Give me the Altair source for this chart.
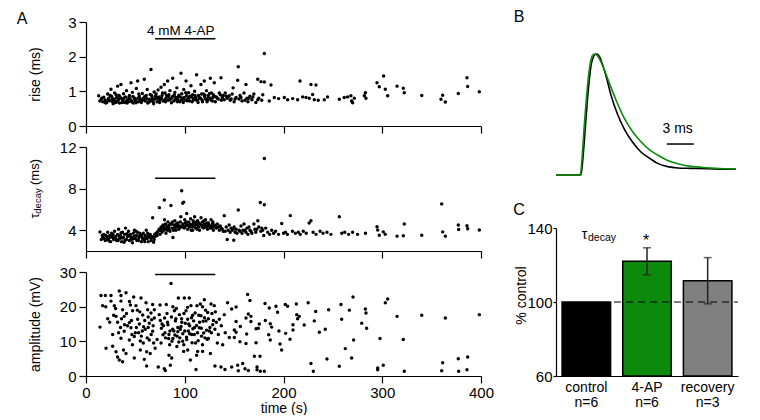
import altair as alt
import pandas as pd

FONT = "Liberation Sans"

drug_start, drug_end = 70, 131
drug_label = "4 mM 4-AP"

# ---- Panel A data: (time s, value) ----
rise = [
    (12.8,0.87),(14,0.72),(15.5,0.78),(17,0.70),(18,0.83),(19.5,0.75),(21,0.68),(22,0.92),(23,0.80),(24,0.73),
    (25.3,1.06),(26,0.85),(27,0.70),(28,0.78),(29,0.95),(30,0.68),(31,0.82),(32,1.15),(32.5,0.74),(33.5,0.88),
    (34,0.66),(35.4,1.20),(36,0.79),(37,0.72),(38,0.93),(39,0.68),(40,0.84),(41,1.02),(42,0.76),(43,0.70),
    (44,0.88),(45.6,1.25),(46,0.73),(47,0.97),(48,0.66),(49,0.81),(50,0.75),(51,1.08),(52.3,1.30),(53,0.70),
    (54,0.86),(55,0.78),(56,0.68),(57,0.94),(58,0.80),(59,1.35),(60,0.72),(61,0.88),(62,1.05),(63,0.69),
    (64,0.77),(65,0.91),(65.8,1.63),(66,0.74),(67,0.83),(68,0.70),(69,0.98),
    (70,0.78),(71,0.92),(72,0.70),(73,1.04),(74,0.84),(75,0.76),(76,1.12),(77,0.88),(78,0.72),(79.3,1.20),
    (80,0.95),(81,0.80),(82.7,1.30),(83,0.74),(84,0.90),(85,1.02),(86,0.78),(87.8,1.38),(88,0.86),(89,0.72),
    (90,0.97),(91,0.82),(92,1.10),(93,0.76),(94,0.89),(95,0.70),(96.2,1.52),(97,0.93),(98,0.80),(99,1.05),
    (100,0.74),(101.3,1.30),(102,0.87),(103,0.78),(104,0.96),(105,0.72),(106.3,1.16),(107,0.84),(108,0.90),
    (109,0.76),(110,1.00),(111,0.82),(112,1.48),(113,0.74),(114,0.88),(115,0.80),(116.4,1.20),(117,0.92),
    (118,0.70),(119.8,1.30),(120,0.85),(121,0.78),(122,1.02),(123,0.74),(124,0.88),(125.9,1.38),(126,0.80),
    (127,0.95),(128,0.72),(129.9,1.25),(130,0.86),
    (132,0.84),(134,0.78),(136,0.90),(136.7,1.39),(138,0.82),(140,0.76),(141,0.95),(143,0.80),(145,0.87),
    (146,0.74),(148,0.92),(149,1.10),(150,0.70),(152,0.82),(153.6,1.32),(154.2,1.71),(155,0.78),(156,0.88),
    (158,0.72),(160,0.95),(162,1.20),(163,0.80),(164,0.70),(166,0.86),(168,0.76),(170,0.92),(172,0.68),
    (173.9,1.35),(175,0.80),(177.2,1.28),(178,0.74),(180.6,1.27),(180.6,2.09),(179,0.90),
    (20,0.66),(24.5,0.88),(27.5,0.64),(30.5,0.90),(33,0.77),(36.5,0.68),(38.5,0.81),(41.5,0.66),(44.5,0.79),
    (47.5,0.85),(50.5,0.67),(53.5,0.92),(56.5,0.73),(59.5,0.85),(62.5,0.66),(66.5,0.88),(68.5,0.64),(71.5,0.83),
    (74.5,0.68),(77.5,0.95),(80.5,0.70),(83.5,0.85),(86.5,0.67),(89.5,0.90),(92.5,0.70),(95.5,0.84),(98.5,0.68),
    (101,0.96),(104.5,0.82),(107.5,0.70),(110.5,0.88),(113.5,0.68),(116,0.80),(119,0.92),(122.5,0.70),(125,0.94),
    (128.5,0.82),(131,0.70),(135,0.95),(139,0.88),(144,0.83),(147,0.78),
    (16,0.80),(19,0.69),(22.5,0.74),(26.5,0.77),(29.5,0.72),(31.5,0.70),(34.5,0.84),(37.5,0.76),(40.5,0.71),
    (43.5,0.83),(46.5,0.69),(49.5,0.74),(52.5,0.80),(55.5,0.71),(58.5,0.76),(61.5,0.79),(64.5,0.70),(67.5,0.76),
    (70.5,0.86),(73.5,0.77),(76.5,0.81),(79,0.74),(81.5,0.88),(84.5,0.76),(87,0.82),(90.5,0.77),(93.5,0.84),
    (96.5,0.75),(99.5,0.82),(102.5,0.73),(105.5,0.86),(108.5,0.79),(111.5,0.75),(114.5,0.83),(117.5,0.76),
    (120.5,0.89),(123.5,0.81),(126.5,0.75),(129,0.90),(133,0.80),(137,0.74),(142,0.86),(151,0.78),(157,0.82),
    (161,0.74),(165,0.80),(169,0.84),(174,0.76),
    (185.6,0.72),(187.3,1.18),(190.7,0.82),(195,0.79),(200.8,0.82),(204.2,0.76),(209.3,0.79),(214.3,0.76),
    (216.7,1.30),(219.4,0.84),(222.8,0.82),(226.1,0.80),(227.8,1.20),(229.5,0.91),(231.2,0.76),(232.9,1.18),
    (235.2,0.74),(241.3,0.76),(244.6,0.84),(256.5,0.77),(261.5,0.82),(264.9,0.84),(268.2,0.87),(269,0.72),
    (270,0.67),(271.7,0.80),(281.8,0.87),(282.9,0.96),(283.5,0.80),(294.7,1.25),(297,1.13),(301.4,1.44),
    (303.1,1.06),(305.5,0.87),(315,1.15),(321.3,1.09),(322.3,0.96),(340,0.88),(359.5,0.77),(361.2,0.89),
    (363.9,0.69),(377,0.94),(385.8,1.39),(386.5,1.14),(398.3,0.99),
]

decay = [
    (14.2,3.83),(15.5,3.1),(17,3.3),(18,3.6),(19.5,3.0),(21,3.4),(22,3.8),(23,3.2),(24,3.5),(25,2.9),
    (26,3.7),(27,3.3),(28,3.1),(29,3.9),(30,3.4),(31,3.0),(32,3.6),(33,4.1),(34,3.2),(35,3.5),(36,2.9),
    (37,3.8),(38,3.3),(39,3.6),(40,4.2),(41,3.1),(42,3.4),(43,3.9),(44,3.0),(45,3.6),(46,3.3),(47,2.8),
    (48,3.7),(49,4.0),(50,3.2),(51,3.5),(52,3.8),(53,3.0),(54,3.4),(55,3.6),(56,2.9),(57,3.3),(58,3.7),
    (59,3.1),(60,3.5),(61,4.0),(62,3.2),(63,2.9),(64,3.4),(65,3.6),(66,3.0),(67.5,5.2),(68,3.3),(69,3.1),
    (20,3.5),(23.5,2.95),(26.5,3.45),(29.5,3.25),(32.5,3.0),(35.5,3.75),(38.5,2.85),(41.5,3.65),(44.5,3.45),
    (47.5,3.15),(50.5,3.9),(53.5,3.25),(56.5,3.55),(59.5,2.9),(62.5,3.7),(65.5,3.25),(68.5,2.85),
    (16.5,3.5),(18.5,3.2),(21.5,3.1),(24.5,3.35),(27.5,3.6),(30.5,3.15),(33.5,3.45),(36.5,3.25),(39.5,3.0),
    (42.5,3.5),(45.5,3.1),(48.5,3.4),(51.5,3.0),(54.5,3.7),(57.5,3.15),(60.5,3.3),(63.5,3.5),(66.5,3.4),
    (69.5,3.6),
    (70,3.4),(71,3.7),(72,3.5),(73,3.9),(74,4.1),(74.3,6.17),(75,3.6),(76,4.3),(77,3.8),(78,4.5),(79,4.0),
    (79.3,6.9),(79.5,5.0),(80,4.2),(81,3.7),(82,4.4),(83,4.8),(84,4.1),(85,3.9),(86,6.37),(86.5,4.6),(87,4.2),
    (88,3.3),(89,4.5),(90,4.9),(91,4.0),(92,4.3),(93,4.7),(94,4.1),(95,4.4),(96,5.3),(96.9,7.8),(97.9,6.6),
    (99,6.7),(98,4.6),(99.5,4.2),(100,5.0),(101,4.4),(102,5.6),(103,4.1),(104,4.8),(105,4.3),(106,5.1),
    (107,4.5),(108,4.0),(109,4.7),(110,5.3),(111,4.2),(112,4.6),(113,4.9),(114,4.3),(115,4.0),(116.5,5.2),
    (117,4.5),(118,4.8),(119,4.2),(120,4.6),(121,5.0),(122,4.3),(123,4.1),(124,4.7),(125,4.4),(126.6,5.0),
    (127,4.2),(128,4.6),(129,4.0),(130,4.5),
    (75.5,4.0),(77.5,4.2),(80.5,4.6),(82.5,4.0),(84.5,4.5),(87.5,4.8),(89.5,4.2),(91.5,4.6),(93.5,4.4),
    (95.5,4.8),(97,4.3),(100.5,4.7),(102.5,4.5),(104.5,4.4),(106.5,4.0),(108.5,4.9),(110.5,4.5),(112.5,4.1),
    (114.5,4.7),(117.5,4.3),(119.5,4.9),(121.5,4.4),(123.5,4.6),(125.5,4.2),(128.5,4.8),
    (72.5,3.8),(76.5,4.2),(78.5,4.4),(81.5,4.1),(83.5,4.3),(85.5,4.6),(88.5,4.0),(90.5,4.4),(92.5,4.5),
    (94.5,4.2),(98.5,4.4),(101.5,4.8),(103.5,4.5),(105.5,4.6),(107.5,4.3),(109.5,4.4),(111.5,4.8),(113.5,4.4),
    (115.5,4.6),(118.5,4.4),(120.5,4.3),(122.5,4.7),(124.5,4.5),(127.5,4.4),(129.5,4.3),
    (131,4.4),(132,4.2),(133,4.6),(134,4.3),(135,4.0),(136,4.4),(137,4.2),(138,4.1),(139,3.9),(140,5.4),
    (141,3.9),(142,4.3),(143,3.1),(144,4.0),(145,4.5),(146,3.8),(147,4.2),(148,4.0),(149,4.1),(149.6,3.04),
    (150,4.3),(151,3.8),(152,4.1),(153,3.7),(154.2,5.95),(155,4.0),(156,3.9),(157,4.4),(158,3.7),(159,4.0),
    (160,4.6),(161,4.0),(162,3.8),(163,4.2),(164,3.6),(165,4.3),(166,4.0),(167,3.9),(168,3.7),(170,4.6),
    (171,4.1),(172,3.8),(173,4.1),(174,4.9),(175,4.3),(176.5,6.66),(177,3.9),(178,4.2),(180,3.5),(180.6,6.44),
    (180.6,10.9),(179,4.0),
    (182,4.2),(184,3.8),(186,3.6),(188,4.0),(190,3.7),(192,3.9),(195,3.6),(198.2,4.65),(200,3.7),(202,3.8),
    (204,3.6),(206.9,5.4),(209,3.9),(212,3.7),(215,3.8),(217,3.6),(220,3.9),(223,3.7),(226,4.7),(227.8,4.91),
    (230,3.8),(233,3.6),(237,3.9),(240,3.7),(244,3.8),(248,3.6),(256.5,5.3),(259,3.7),(262,3.8),(266,3.6),
    (270,3.8),(275,3.6),(283,3.7),(294.7,4.33),(295.4,4.01),(297,3.52),(301,3.84),(303,3.62),(315,3.43),
    (321.3,3.46),(322.3,4.59),(340,3.52),(360.2,6.53),(361.2,3.84),(363.9,3.43),(377,4.5),(377.4,4.07),
    (385.8,4.43),(386.5,4.14),(398.3,4.01),
]

amp = [
    (14.2,14.1),(15.2,23.2),(16.9,20.3),(19.6,23.2),(20.3,8.0),(25.3,23.2),(27,8.6),(25.3,21.6),(28.7,20.3),
    (30.4,17.2),(32,15.5),(30.4,7.0),(32,5.5),(33.7,4.6),(33.7,24.5),(35.4,23.2),(35.4,21.6),(37.1,19.1),
    (38.7,17.2),(40.5,24.0),(37.1,4.1),(40.5,6.5),(35.4,10.9),(38.7,12.9),(43.9,15.4),(43.9,10.4),(45.5,13.9),
    (47.2,18.8),(48.3,22.8),(48.9,11.4),(48.9,5.2),(50.6,20.3),(52.3,16.4),(53.3,12.5),(55,10.1),(55.7,22.5),
    (57.4,17.6),(58.3,14.2),(59,4.8),(60.8,21.1),(62.5,19.1),(61.4,7.0),(61.4,2.9),(64.1,15.2),(64.1,10.4),
    (65.8,18.2),(67.5,20.6),(67.5,12.9),(69.2,16.7),(69.2,19.1),
    (74.2,17.7),(75.3,16.0),(73.2,2.6),(79.3,2.1),(80.3,1.6),(76.3,13.8),(78,11.9),(79.6,16.7),(81.3,20.6),
    (83,14.8),(83.7,10.8),(84.7,9.0),(85.4,3.1),(86.1,26.7),(86.8,5.2),(87.8,13.5),(89.5,18.8),(90.5,15.9),
    (92.2,11.5),(93.5,22.5),(94.6,17.7),(96.2,14.3),(97.9,10.0),(98.9,7.1),(99.6,22.5),(101.3,18.8),
    (103,16.4),(103.6,13.0),(104.6,22.5),(105.7,4.6),(106.3,20.3),(107.4,9.6),(109,15.9),(109.7,12.0),
    (111.4,1.9),(112.4,20.3),(113.1,7.1),(114.7,13.9),(115.8,20.8),(116.4,17.4),(118.1,7.1),(119.8,22.0),
    (120.5,11.0),(121.5,15.9),(123.2,18.3),(124.9,13.0),(126.6,20.8),(128.3,14.8),(129.9,20.3),(130.6,2.9),
    (135,16.4),(136.7,2.6),(138.4,9.0),(140,17.7),(140.7,1.9),(143.4,21.1),(145.1,11.1),
    (42,14.5),(46,16.0),(50,12.5),(54,15.0),(56,11.5),(60,13.5),(63,17.0),(66,12.0),(68,14.5),(72,10.5),
    (77,15.0),(80,12.5),(82,18.0),(85,13.0),(88,10.8),(91,16.5),(93,12.8),(95,11.0),(97,15.5),(100,13.0),
    (102,10.5),(105,14.5),(107,12.0),(108,17.5),(110,14.0),(111,9.5),(113,12.5),(115,15.5),(117,11.5),
    (118,9.0),(120,16.8),(122,13.2),(124,10.8),(127,12.5),(129,16.0),(131,18.5),(133,9.5),(92,8.5),(99,9.0),
    (103,7.5),(84,6.0),(112,6.0),(126,6.5),(118,20.0),(75,20.5),(88,20.0),(65,6.5),(55,7.5),(47,9.0),
    (30,19.5),(27,12.0),(24,15.5),(35,14.0),(45,20.5),(52,19.0),(58,9.5),(70,8.0),(38,7.5),(62,11.0),
    (76,9.5),(78.5,14.5),(80.5,11.0),(82.5,15.5),(84,12.0),(86.5,17.0),(87,10.0),(89,13.0),(90,11.8),
    (91.5,19.5),(93,14.0),(94,9.8),(95.5,13.5),(96.8,16.5),(98,12.2),(99.2,18.0),(100.5,15.2),(101.8,11.2),
    (102.8,19.8),(104,15.0),(105,12.2),(106.8,16.8),(108.2,13.6),(110.5,18.2),(112,14.6),(113.6,10.2),
    (114.2,17.5),(116.8,13.8),(118.6,15.8),(119.2,12.4),(121,19.0),(122.8,10.6),(124,16.5),(125.5,14.0),
    (127.5,18.0),(130.5,13.5),(132,15.5),(134,12.0),(137,14.5),(141,12.5),(20,20.0),(22,16.5),(28,17.5),
    (33,12.5),(36,16.5),(39,14.8),(41,18.0),(44,21.5),(46.5,12.0),(51,14.0),(54.5,18.5),(57,13.0),(59.5,16.0),
    (63,14.0),(66.5,16.2),(68.5,9.5),
    (163.7,23.5),(166,21.8),(152,19.9),(147.5,19.3),(181.3,20.9),(185.6,19.6),(192.4,20.1),(194,18.4),
    (201.8,20.6),(204.2,20.1),(213,20.8),(225,21.1),(232.6,18.6),(245.7,19.1),(258.2,20.6),(270.4,22.8),
    (266.7,19.0),(282.9,19.3),(283.5,18.2),(258.9,16.4),(279.2,15.2),(284.2,13.8),(271,10.4),(262.6,7.9),
    (269,5.2),(244,4.9),(256.5,2.8),(227.8,3.6),(230.2,1.4),(242.3,13.5),(236.3,12.6),(231.2,15.9),(221,14.7),
    (216,17.2),(214.3,16.5),(213.4,17.7),(209.6,14.8),(209.6,13.3),(206.6,10.6),(202.2,12.3),(198.1,7.5),
    (196.5,9.2),(195.4,13.0),(186.6,15.1),(188,14.1),(185,11.9),(186.6,10.4),(181.6,16.0),(175.5,15.0),
    (174.5,13.8),(172.2,13.6),(172.2,9.6),(167,17.2),(162,16.7),(164.4,17.9),(167,15.7),(152,15.7),
    (156.3,14.3),(150.2,13.3),(152,12.6),(162.7,12.1),(162,9.4),(150.2,11.1),(155.9,9.9),(176.2,5.7),
    (170.5,5.7),(147.5,2.6),(153.6,3.1),(158.7,3.6),(161,2.1),(164.4,1.6),(173.2,2.6),(173.2,1.8),
    (176.5,1.4),(180.6,1.4),(154.2,1.5),
    (303.1,21.1),(305.5,22.2),(315,17.2),(340,17.5),(363.9,16.7),(398.3,17.7),(297.7,10.8),(321.3,10.5),
    (295.4,2.3),(295.4,1.8),(301,3.1),(322.3,1.4),(360.2,1.5),(361.2,3.8),(377,5.0),(386.5,5.5),
    (377.4,1.4),(385.8,1.8),
]

# ---- Panel B traces (time ms, normalised amplitude) ----
black_t = [0,2.77,2.96,3.14,3.33,3.51,3.70,3.88,4.07,4.33,4.55,4.81,5.18,5.55,6.10,6.84,7.58,8.51,9.43,
           10.36,11.28,12.39,13.5,14.98,16.83,18.68,19.98]
black_v = [0,0,0.115,0.28,0.47,0.64,0.79,0.90,0.96,0.995,1.0,0.98,0.91,0.82,0.66,0.50,0.38,0.27,0.19,
           0.14,0.096,0.069,0.058,0.055,0.052,0.047,0.049]
green_t = [0,2.70,2.89,3.07,3.26,3.44,3.63,3.81,4.03,4.29,4.55,4.92,5.36,5.92,6.66,7.58,8.51,9.43,10.36,
           11.28,12.39,13.5,14.98,16.83,18.68,19.98]
green_v = [0,0,0.14,0.335,0.53,0.69,0.83,0.926,0.986,1.0,0.99,0.945,0.87,0.76,0.62,0.47,0.357,0.275,0.21,
           0.165,0.12,0.093,0.071,0.06,0.052,0.052]
scalebar_ms = (12.3, 15.3)
scalebar_label = "3 ms"

# ---- Panel C ----
conds = ["control", "4-AP", "recovery"]
ns = [6, 6, 3]
pct = [100, 122, 111.5]
sem = [0, 7.3, 12.5]
bar_colors = ["#000000", "#0b8a0b", "#808080"]

GREEN = "#0b8a0b"


def txt(s, x, y, size=14, angle=0, align="center", baseline="middle"):
    return alt.Chart(pd.DataFrame({"s": [s]})).mark_text(
        font=FONT, fontSize=size, angle=angle, align=align, baseline=baseline, color="black"
    ).encode(text="s:N", x=alt.value(x), y=alt.value(y))


def scatter_panel(pts, ydom, yvals, ytitle, bar_y, xlabels, extras):
    df = pd.DataFrame(pts, columns=["t", "v"])
    X = alt.X("t:Q", scale=alt.Scale(domain=[0, 400], nice=False),
              axis=alt.Axis(values=[0, 100, 200, 300, 400], labels=xlabels,
                            title="time (s)" if xlabels else None,
                            tickSize=7, labelFontSize=15, labelPadding=2, labelFlush=False,
                            titleFontSize=14, titlePadding=1, domainWidth=1.2, tickWidth=1.2))
    yax = dict(values=yvals, tickSize=7, labelFontSize=15, labelPadding=3, labelFlush=False,
               domainWidth=1.2, tickWidth=1.2)
    if ytitle:
        yax.update(title=ytitle, titleFontSize=14, titleX=-51, titleBaseline="middle")
    else:
        yax.update(title=None)
    Y = alt.Y("v:Q", scale=alt.Scale(domain=ydom, nice=False, zero=False), axis=alt.Axis(**yax))
    pts_layer = alt.Chart(df).mark_circle(size=12, color="black", opacity=1).encode(x=X, y=Y)
    bar = alt.Chart(pd.DataFrame({"t": [drug_start], "t1": [drug_end], "v": [bar_y]})).mark_rule(
        color="black", strokeWidth=1.5).encode(x=X, x2="t1:Q", y=Y)
    layers = [pts_layer, bar] + [e(X, Y) if callable(e) else e for e in extras]
    return alt.layer(*layers).properties(width=395, height=104)


anchor = alt.Chart(pd.DataFrame({"a": [0]})).mark_rule(color="white", strokeWidth=1).encode(
    x=alt.value(-85), x2=alt.value(-84), y=alt.value(-21), y2=alt.value(-20))


def drug_text(X, Y):
    return alt.Chart(pd.DataFrame({"t": [96], "v": [2.74], "s": [drug_label]})).mark_text(
        font=FONT, fontSize=13.5, color="black", baseline="middle").encode(x=X, y=Y, text="s:N")


A1 = scatter_panel(rise, [0, 3], [0, 1, 2, 3], "rise (ms)", 2.52, False,
                   [drug_text, txt("A", -64, -3, size=16), anchor])
A2 = scatter_panel(decay, [2, 12], [4, 8, 12], None, 9.0, False,
                   [txt("τ", -51, 69, size=13, angle=270),
                    txt("decay", -48, 54, size=9.5, angle=270),
                    txt("(ms)", -51, 25, size=13, angle=270)])
A3 = scatter_panel(amp, [0, 30], [0, 10, 20, 30], "amplitude (mV)", 29.3, True, [])

# ---- B ----
BX = alt.X("t:Q", scale=alt.Scale(domain=[0, 20.2], nice=False), axis=None)
BY = alt.Y("v:Q", scale=alt.Scale(domain=[0, 1], range=[153, 32], nice=False, zero=False), axis=None)
bdf_black = pd.DataFrame({"t": black_t, "v": black_v})
bdf_green = pd.DataFrame({"t": green_t, "v": green_v})
B = alt.layer(
    alt.Chart(bdf_black).mark_line(color="black", strokeWidth=1.6, interpolate="monotone").encode(x=BX, y=BY),
    alt.Chart(bdf_green).mark_line(color=GREEN, strokeWidth=1.6, interpolate="monotone").encode(x=BX, y=BY),
    alt.Chart(pd.DataFrame({"t": [scalebar_ms[0]], "t1": [scalebar_ms[1]], "v": [0.256]})).mark_rule(
        color="black", strokeWidth=1.5).encode(x=BX, x2="t1:Q", y=BY),
    alt.Chart(pd.DataFrame({"t": [13.5], "v": [0.38], "s": [scalebar_label]})).mark_text(
        font=FONT, fontSize=14, color="black", baseline="middle").encode(x=BX, y=BY, text="s:N"),
    txt("B", -37, -5, size=16),
).properties(width=182, height=104)

# ---- C ----
labs = [f"{c}|n={n}" for c, n in zip(conds, ns)]
cdf = pd.DataFrame({"lab": labs, "val": pct, "base": [60] * 3, "col": bar_colors})
edf = pd.DataFrame({"lab": labs[1:], "lo": [p - s for p, s in zip(pct[1:], sem[1:])],
                    "hi": [p + s for p, s in zip(pct[1:], sem[1:])]})
CX = alt.X("lab:N", sort=labs, scale=alt.Scale(domain=labs, paddingInner=0.2, paddingOuter=0.1),
           axis=alt.Axis(title=None, labelExpr="split(datum.label, '|')", ticks=False, offset=125,
                         labelAngle=0, labelFontSize=14, labelLineHeight=15, labelPadding=4,
                         domainWidth=1.2))
cscale = alt.Scale(domain=[60, 140], range=[229, 81], nice=False, zero=False)
caxis = alt.Axis(values=[60, 100, 140], title="% control", titleFontSize=14, labelFontSize=15,
                 tickSize=3, labelPadding=1, titleX=-35, titleY=148, titleBaseline="middle",
                 domainWidth=1.2, tickWidth=1.2)


def CY(f):
    return alt.Y(f"{f}:Q", scale=cscale, axis=caxis)


C = alt.layer(
    alt.Chart(cdf).mark_bar(stroke="black", strokeWidth=1.5).encode(
        x=CX, y=CY("val"), y2="base:Q", color=alt.Color("col:N", scale=None)),
    alt.Chart(edf).mark_rule(color="#222222", strokeWidth=1.5).encode(x=CX, y=CY("lo"), y2="hi:Q"),
    alt.Chart(edf).mark_tick(color="#222222", size=8, thickness=1.5).encode(x=CX, y=CY("lo")),
    alt.Chart(edf).mark_tick(color="#222222", size=8, thickness=1.5).encode(x=CX, y=CY("hi")),
    alt.Chart(pd.DataFrame({"val": [100]})).mark_rule(color="black", strokeWidth=1, strokeDash=[7, 5]).encode(
        x=alt.value(58), x2=alt.value(182), y=CY("val")),
    txt("τ", 28.5, 88, size=14),
    txt("decay", 32, 91, size=10.5, align="left"),
    txt("*", 90, 99, size=16, baseline="alphabetic"),
    txt("C", -37, 63, size=16),
).properties(width=182, height=104)

chart = alt.concat(
    A1, B, A2, C, A3, columns=2, spacing={"row": 21, "column": 75}, bounds="flush", align="each"
).properties(padding=0)

chart = chart.configure(font=FONT).configure_view(stroke=None).configure_axis(
    labelFont=FONT, titleFont=FONT, labelColor="black", titleColor="black",
    titleFontWeight="normal", grid=False, domainColor="black", tickColor="black")

chart.save("out.html", embed_options={"renderer": "svg", "actions": False})
